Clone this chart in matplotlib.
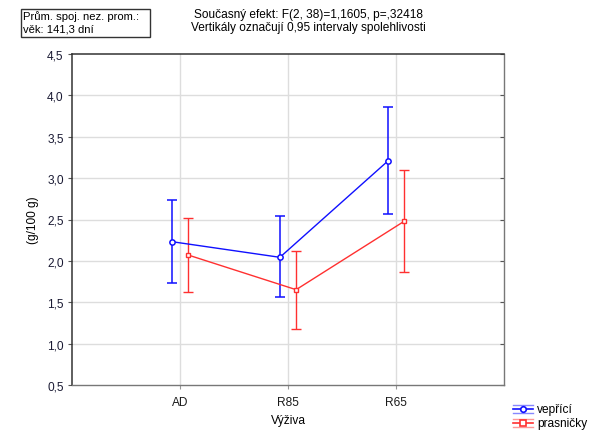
import matplotlib
matplotlib.use("Agg")
import matplotlib.pyplot as plt
from matplotlib.lines import Line2D
from matplotlib.patches import Rectangle
import numpy as np

plt.rcParams['font.family'] = ['Liberation Sans', 'DejaVu Sans']

categories = ["AD", "R85", "R65"]
series_names = ["vepřící", "prasničky"]
means_vepr = [2.232, 2.043, 3.207]
lower_vepr = [1.733, 1.560, 2.566]
upper_vepr = [2.736, 2.539, 3.856]
means_pras = [2.071, 1.652, 2.478]
lower_pras = [1.620, 1.177, 1.862]
upper_pras = [2.522, 2.123, 3.098]
yticks = [0.5, 1.0, 1.5, 2.0, 2.5, 3.0, 3.5, 4.0, 4.5]

W, H = 594, 435
FS = 8.6
fig = plt.figure(figsize=(W / 100, H / 100), dpi=100)
ax = fig.add_axes([72 / W, 1 - 386 / H, (504 - 72) / W, (386 - 55) / H])

x = np.arange(1, len(categories) + 1)
off = 0.075
blue = '#1010ff'
red = '#ff3030'

for xi in x:
    ax.axvline(xi, color='#dddddd', lw=1, zorder=0)
for yt in yticks[1:-1]:
    ax.axhline(yt, color='#dddddd', lw=1, zorder=0)

mv = np.array(means_vepr)
mp = np.array(means_pras)
ax.errorbar(x - off, mv, yerr=[mv - np.array(lower_vepr), np.array(upper_vepr) - mv],
            color=blue, lw=1, elinewidth=1.1, capsize=3.6, capthick=1.1,
            marker='o', ms=3.8, mfc='white', mec=blue, mew=1.1, zorder=3)
ax.errorbar(x + off, mp, yerr=[mp - np.array(lower_pras), np.array(upper_pras) - mp],
            color=red, lw=1, elinewidth=1, capsize=3.3, capthick=1,
            marker='s', ms=3.5, mfc='white', mec=red, mew=1, zorder=3)

ax.set_xlim(0, 4)
ax.set_ylim(0.5, 4.5)
ax.set_xticks(x)
ax.set_xticklabels(categories)
ax.set_yticks(yticks)
ax.set_yticklabels([f"{v:.1f}".replace('.', ',') for v in yticks])
ax.tick_params(axis='y', which='both', left=True, right=True, direction='out', length=3,
               labelsize=FS, pad=3, color='#555555', labelcolor='#1a1a33')
ax.tick_params(axis='x', direction='out', length=3, labelsize=FS, pad=5, color='#999999',
               labelcolor='#1a1a1a')
for t in ax.yaxis.get_major_ticks():
    t.tick2line.set_marker(0)
    t.tick2line.set_markersize(3)
for sp in ['left', 'top']:
    ax.spines[sp].set_color('#333333')
    ax.spines[sp].set_linewidth(1.1)
for sp in ['right', 'bottom']:
    ax.spines[sp].set_color('#777777')
    ax.spines[sp].set_linewidth(1)

ax.set_xlabel("Výživa", fontsize=FS, labelpad=4)
ax.set_ylabel("(g/100 g)", fontsize=FS, labelpad=6)

fig.text(308 / W, 1 - 15 / H, "Současný efekt: F(2, 38)=1,1605, p=,32418",
         ha='center', va='center', fontsize=FS)
fig.text(308 / W, 1 - 28 / H, "Vertikály označují 0,95 intervaly spolehlivosti",
         ha='center', va='center', fontsize=FS)

fig.add_artist(Rectangle((21 / W, 1 - 38 / H), (150 - 21) / W, 28 / H,
                         transform=fig.transFigure, fill=False, ec='#333333', lw=1))
fig.text(23 / W, 1 - 16.5 / H, "Prům. spoj. nez. prom.:", ha='left', va='center', fontsize=8.1)
fig.text(23 / W, 1 - 29 / H, "věk: 141,3 dní", ha='left', va='center', fontsize=8.1)

legend_items = [(series_names[0], blue, 'o', 410), (series_names[1], red, 's', 424)]
for name, col, mk, yy in legend_items:
    yf = 1 - yy / H
    dy = 4 / H
    x0, x1 = 513 / W, 533 / W
    fig.add_artist(Line2D([x0, x1], [yf, yf], color=col, lw=1.2, transform=fig.transFigure))
    fig.add_artist(Line2D([x0, x1], [yf + dy, yf + dy], color=col, lw=1, alpha=0.5,
                          transform=fig.transFigure))
    fig.add_artist(Line2D([x0, x1], [yf - dy, yf - dy], color=col, lw=1, alpha=0.5,
                          transform=fig.transFigure))
    fig.add_artist(Line2D([(x0 + x1) / 2], [yf], color=col, marker=mk, ms=4, mfc='white',
                          mec=col, mew=1.2, transform=fig.transFigure))
    fig.text(537 / W, yf, name, ha='left', va='center', fontsize=FS)

fig.savefig("out.png", dpi=100)
